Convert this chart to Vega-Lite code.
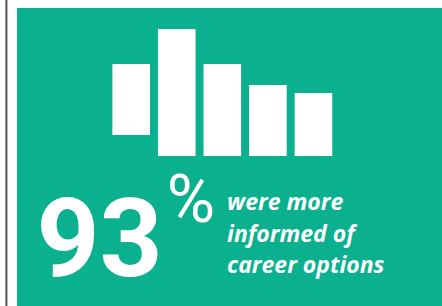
{
  "$schema": "https://vega.github.io/schema/vega-lite/v6.json",
  "autosize": "none",
  "width": 425,
  "height": 298,
  "padding": {"left": 17, "top": 8, "right": 0, "bottom": 0},
  "background": "#ffffff",
  "config": {"view": {"fill": "#0BB08E", "stroke": null}},
  "layer": [
    {
      "data": {"values": [
        {"bar": 1, "top": 92, "bottom": 21},
        {"bar": 2, "top": 127, "bottom": 0},
        {"bar": 3, "top": 92, "bottom": 0},
        {"bar": 4, "top": 71, "bottom": 0},
        {"bar": 5, "top": 63, "bottom": 0}
      ]},
      "mark": {"type": "bar", "color": "#ffffff", "width": 37.6, "cornerRadius": 0},
      "encoding": {
        "x": {"field": "bar", "type": "quantitative", "scale": {"domain": [-1.396, 7.711], "nice": false, "zero": false}, "axis": null},
        "y": {"field": "top", "type": "quantitative", "scale": {"domain": [-150, 148], "nice": false, "zero": false}, "axis": null},
        "y2": {"field": "bottom"}
      }
    },
    {
      "data": {"values": [{"label": "93"}]},
      "mark": {"type": "text", "color": "#ffffff", "font": "Roboto", "fontWeight": "bold", "fontSize": 110, "align": "right", "baseline": "alphabetic"},
      "encoding": {
        "x": {"datum": 1.69, "type": "quantitative"},
        "y": {"datum": -120, "type": "quantitative"},
        "text": {"field": "label"}
      }
    },
    {
      "data": {"values": [{"label": "%"}]},
      "mark": {"type": "text", "color": "#ffffff", "font": "Roboto", "fontWeight": "normal", "fontSize": 66, "align": "left", "baseline": "alphabetic"},
      "encoding": {
        "x": {"datum": 1.78, "type": "quantitative"},
        "y": {"datum": -66, "type": "quantitative"},
        "text": {"field": "label"}
      }
    },
    {
      "data": {"values": [{"line1": "were more", "line2": "informed of", "line3": "career options"}]},
      "mark": {"type": "text", "color": "#ffffff", "font": "Open Sans", "fontWeight": "bold", "fontStyle": "italic", "fontSize": 23, "align": "left", "baseline": "alphabetic", "lineHeight": 31.7},
      "encoding": {
        "x": {"datum": 3.104, "type": "quantitative"},
        "y": {"datum": -54, "type": "quantitative"},
        "text": {"value": ["were more", "informed of", "career options"]}
      }
    },
    {
      "data": {"values": [{"edge": "left"}]},
      "mark": {"type": "rule", "color": "#555555", "strokeWidth": 2, "clip": false},
      "encoding": {
        "x": {"datum": -1.738, "type": "quantitative"},
        "y": {"datum": 156, "type": "quantitative"},
        "y2": {"datum": -150}
      }
    }
  ]
}
